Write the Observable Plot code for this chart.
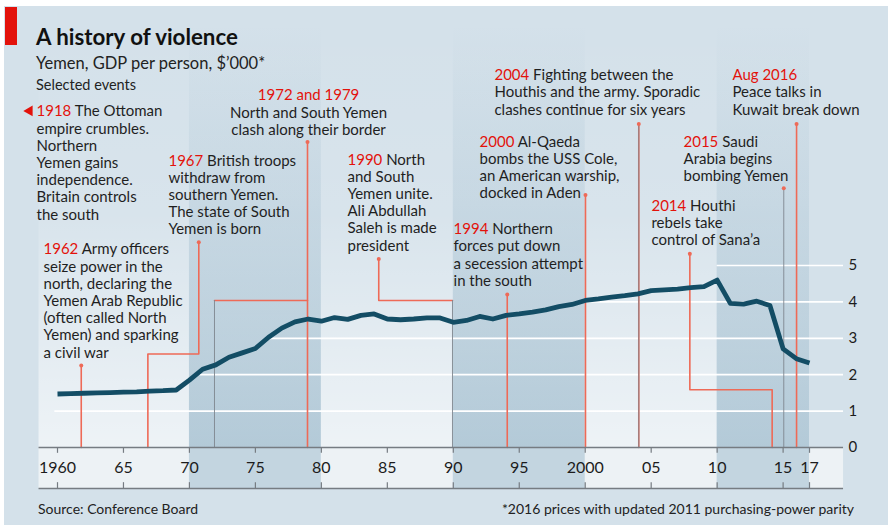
<!DOCTYPE html>
<html><head><meta charset="utf-8">
<script src="https://cdn.jsdelivr.net/npm/d3@7"></script>
<script src="https://cdn.jsdelivr.net/npm/@observablehq/plot@0.6"></script>
<style>
html,body{margin:0;padding:0;background:#fff;}
#wrap{position:relative;width:888px;height:525px;overflow:hidden;background:#fff;font-family:Lato,"Noto Sans",sans-serif;color:#1c1c1c;}
#bg{position:absolute;left:4px;top:6px;right:0;bottom:0;background:#d4e1ea;}
#redbar{position:absolute;left:5px;top:7px;width:12px;height:38px;background:#e3120b;}
#chart{position:absolute;left:0;top:0;}
.t{position:absolute;white-space:nowrap;line-height:1;}
#title{left:36px;top:26px;font-size:22.3px;font-weight:700;color:#111;}
#sub{left:36px;top:54.5px;font-size:16.5px;color:#222;}
#sel{left:36px;top:78px;font-size:14.5px;color:#222;}
#src{left:38px;top:501.5px;font-size:14px;color:#222;}
#note{right:34px;top:501.5px;font-size:14px;color:#222;}
</style></head>
<body><div id="wrap"><div id="bg"></div><div id="redbar"></div><div id="chart"></div>
<div class="t" id="title">A history of violence</div>
<div class="t" id="sub">Yemen, GDP per person, $’000*</div>
<div class="t" id="sel">Selected events</div>
<div class="t" id="src">Source: Conference Board</div>
<div class="t" id="note">*2016 prices with updated 2011 purchasing-power parity</div>
</div>
<script>
// ---------------- DATA ----------------
const years = [1960,1961,1962,1963,1964,1965,1966,1967,1968,1969,
  1970,1971,1972,1973,1974,1975,1976,1977,1978,1979,
  1980,1981,1982,1983,1984,1985,1986,1987,1988,1989,
  1990,1991,1992,1993,1994,1995,1996,1997,1998,1999,
  2000,2001,2002,2003,2004,2005,2006,2007,2008,2009,
  2010,2011,2012,2013,2014,2015,2016,2017];
const gdp = [1.47,1.48,1.49,1.50,1.51,1.52,1.53,1.55,1.56,1.58,
  1.85,2.15,2.27,2.48,2.60,2.72,3.03,3.28,3.45,3.53,
  3.47,3.57,3.52,3.63,3.67,3.53,3.51,3.53,3.56,3.56,
  3.44,3.49,3.60,3.53,3.63,3.67,3.72,3.78,3.87,3.93,
  4.04,4.08,4.13,4.17,4.22,4.31,4.33,4.35,4.39,4.42,
  4.60,3.96,3.94,4.02,3.90,2.71,2.44,2.32];
const tickYears = [1960,1965,1970,1975,1980,1985,1990,1995,2000,2005,2010,2015,2017];
const tickLabels = ["1960","65","70","75","80","85","90","95","2000","05","10","15","17"];
const yTicks = [0,1,2,3,4,5];
const bandStart = [1970,1990,2010];
const bandEnd = [1980,2000,2017];
const eventYears = ["1918","1962","1967","1972 and 1979","1990","1994","2000","2004","2014","2015","Aug 2016"];
const eventTexts = [
  "1918 The Ottoman\nempire crumbles.\nNorthern\nYemen gains\nindependence.\nBritain controls\nthe south",
  "1962 Army officers\nseize power in the\nnorth, declaring the\nYemen Arab Republic\n(often called North\nYemen) and sparking\na civil war",
  "1967 British troops\nwithdraw from\nsouthern Yemen.\nThe state of South\nYemen is born",
  "1972 and 1979\nNorth and South Yemen\nclash along their border",
  "1990 North\nand South\nYemen unite.\nAli Abdullah\nSaleh is made\npresident",
  "1994 Northern\nforces put down\na secession attempt\nin the south",
  "2000 Al-Qaeda\nbombs the USS Cole,\nan American warship,\ndocked in Aden",
  "2004 Fighting between the\nHouthis and the army. Sporadic\nclashes continue for six years",
  "2014 Houthi\nrebels take\ncontrol of Sana’a",
  "2015 Saudi\nArabia begins\nbombing Yemen",
  "Aug 2016\nPeace talks in\nKuwait break down"
];

// ---------------- LAYOUT (chart units: year, $'000) ----------------
const labelX = [1958.41,1958.94,1968.41,1979.03,1981.98,1990.02,1991.99,1993.12,2005.02,2007.45,2011.16];
const labelY = [9.43,5.64,8.08,9.87,8.11,6.195,8.595,10.427,6.846,8.604,10.427];
const labelCentered = [false,false,false,true,false,false,false,false,false,false,false];
const redPaths = [
  [[1961.8,2.25],[1961.8,0]],
  [[1970.71,5.64],[1970.71,2.57],[1966.85,2.57],[1966.85,0]],
  [[1978.95,8.39],[1978.95,0]],
  [[1978.95,4.04],[1971.9,4.04]],
  [[1984.35,5.18],[1984.35,4.04],[1989.94,4.04]],
  [[1994.09,4.2],[1994.09,0]],
  [[2000.02,6.94],[2000.02,0]],
  [[2004.06,8.89],[2004.06,0]],
  [[2007.93,5.32],[2007.93,1.585],[2014.17,1.585],[2014.17,0]],
  [[2016.02,8.89],[2016.02,0]]
];
const greyPaths = [
  [[1971.9,4.04],[1971.9,0]],
  [[1989.94,4.04],[1989.94,0]],
  [[2015.05,7.12],[2015.05,0]],
  [[2004.06,8.89],[2004.06,0]]
];
const dotPts = [[1961.8,2.25],[1970.71,5.64],[1978.95,8.39],[1984.35,5.18],[1994.09,4.2],[2000.02,6.94],[2004.06,8.89],[2007.93,5.32],[2015.05,7.12],[2016.02,8.89]];
const gridStart = [1959.8,1970.8,1976.1,1999.9,2010];
const LEFT = 1958.6, RIGHT = 2019.58, TOP = 11.6, STRIP = -1.126;

// ---------------- BUILD ----------------
const series = years.map((y,i)=>({year:y, v:gdp[i]}));
const bands = bandStart.map((s,i)=>({s, e:bandEnd[i]}));
const grid = yTicks.slice(1).map((v,i)=>({v, s:gridStart[i]}));
const flat = (paths)=>paths.flatMap((p,i)=>p.map(([x,y])=>({id:i,x,y})));
const ticks = tickYears.map((t,i)=>({t, l:tickLabels[i]}));
const ann = eventTexts.map((t,i)=>({t, x:labelX[i], y:labelY[i], c:labelCentered[i]}));
const RED = "#e3120b", LINE_RED = "#ee6a57", GREY = "#7f878f";

const svg = Plot.plot({
  width: 888, height: 525,
  marginLeft: 57, marginRight: 79, marginTop: 265, marginBottom: 78,
  x: {domain: [1960, 2017], axis: null},
  y: {domain: [0, 5], axis: null},
  style: "background:transparent;overflow:visible;font-family:Lato,'Noto Sans',sans-serif;",
  marks: [
    Plot.rect([0], {x1: LEFT, x2: 2017, y1: 0, y2: TOP, fill: "url(#panelG)"}),
    Plot.rect(bands, {x1: "s", x2: "e", y1: 0, y2: TOP, fill: "url(#bandG)"}),
    Plot.rect([0], {x1: LEFT, x2: RIGHT, y1: 0, y2: STRIP, fill: "#edf2f5"}),
    Plot.rect(bands, {x1: "s", x2: "e", y1: 0, y2: STRIP, fill: "#c3d5e0"}),
    Plot.ruleY(grid, {y: "v", x1: "s", x2: RIGHT, stroke: "white", strokeWidth: 1.7}),
    Plot.line(flat(redPaths), {x: "x", y: "y", z: "id", stroke: LINE_RED, strokeWidth: 1.6, curve: "linear"}),
    Plot.line(flat(greyPaths), {x: "x", y: "y", z: "id", stroke: GREY, strokeWidth: 0.9, curve: "linear"}),
    Plot.dot(dotPts, {x: d=>d[0], y: d=>d[1], r: 2, fill: LINE_RED}),
    Plot.line(series, {x: "year", y: "v", stroke: "#134d65", strokeWidth: 4.8, strokeLinejoin: "round", strokeLinecap: "butt"}),
    Plot.ruleY([0], {x1: LEFT, x2: RIGHT, stroke: "#767c82", strokeWidth: 1.5}),
    Plot.ruleY([STRIP], {x1: LEFT, x2: RIGHT, stroke: "#767c82", strokeWidth: 1.5}),
    Plot.ruleX(tickYears, {y1: 0, y2: -0.16, stroke: "#767c82", strokeWidth: 1.2}),
    Plot.ruleX(tickYears, {y1: STRIP + 0.16, y2: STRIP, stroke: "#767c82", strokeWidth: 1.2}),
    Plot.text(ticks, {x: "t", y: -0.55, text: "l", fontSize: 16, fill: "#1c1c1c", textAnchor: "middle"}),
    Plot.text(yTicks, {x: 2019.95, y: d=>d, text: d=>String(d), fontSize: 15, fill: "#1c1c1c", textAnchor: "start"}),
    Plot.text(ann.filter(d=>!d.c), {x: "x", y: "y", text: "t", fontSize: 15, lineHeight: 1.147, textAnchor: "start", lineAnchor: "top", fill: "#1f1f1f"}),
    Plot.text(ann.filter(d=>d.c), {x: "x", y: "y", text: "t", fontSize: 15, lineHeight: 1.147, textAnchor: "middle", lineAnchor: "top", fill: "#1f1f1f"}),
    Plot.dot([0], {x: 1957.88, y: 9.245, symbol: "triangle", rotate: -90, r: 4, fill: RED, stroke: "none"})
  ]
});

const ns = "http://www.w3.org/2000/svg";
const defs = document.createElementNS(ns, "defs");
defs.innerHTML = `
<linearGradient id="panelG" x1="0" y1="0" x2="0" y2="1">
  <stop offset="0" stop-color="#ffffff" stop-opacity="0"/>
  <stop offset="0.45" stop-color="#ffffff" stop-opacity="0.1"/>
  <stop offset="1" stop-color="#ffffff" stop-opacity="0.6"/>
</linearGradient>
<linearGradient id="bandG" x1="0" y1="0" x2="0" y2="1">
  <stop offset="0" stop-color="#6f9ab4" stop-opacity="0"/>
  <stop offset="0.4" stop-color="#6f9ab4" stop-opacity="0.15"/>
  <stop offset="1" stop-color="#6f9ab4" stop-opacity="0.46"/>
</linearGradient>`;
svg.insertBefore(defs, svg.firstChild);

// colour the event year at the start of each annotation
svg.querySelectorAll("text").forEach(txt => {
  const first = txt.querySelector("tspan");
  if (!first) return;
  const line = first.textContent;
  const pre = eventYears.filter(p => line.startsWith(p)).sort((a,b)=>b.length-a.length)[0];
  if (!pre) return;
  first.textContent = "";
  const r = document.createElementNS(ns, "tspan");
  r.setAttribute("fill", RED);
  r.textContent = pre;
  first.appendChild(r);
  if (line.length > pre.length) first.appendChild(document.createTextNode(line.slice(pre.length)));
});

document.getElementById("chart").appendChild(svg);
</script>
</body></html>
